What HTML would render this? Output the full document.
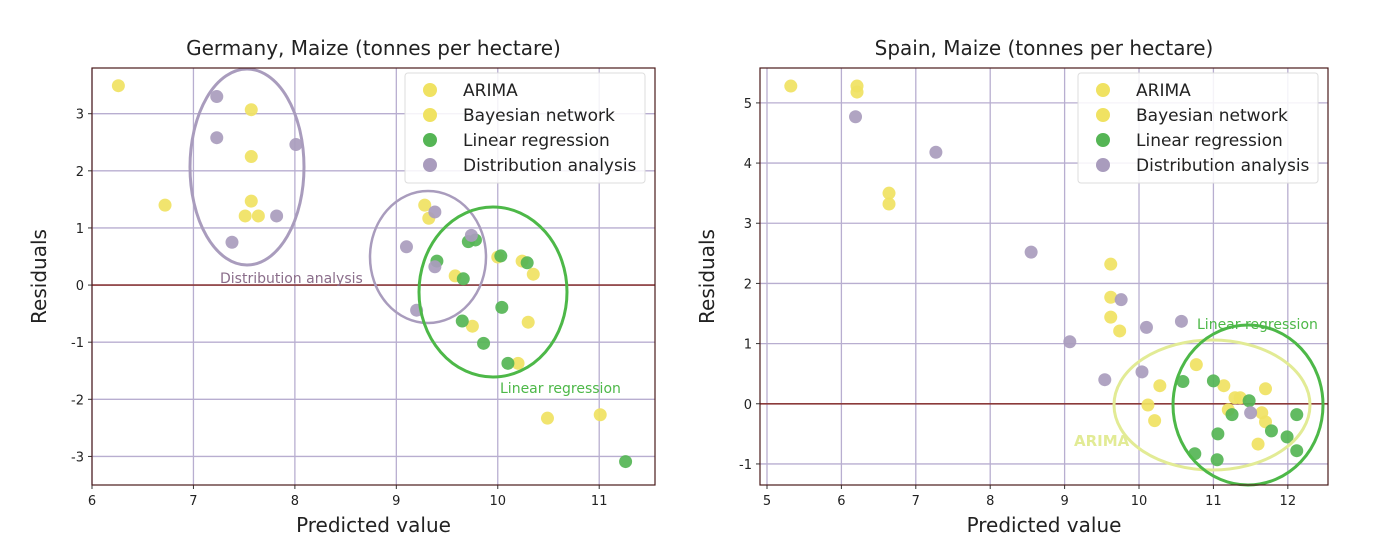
<!DOCTYPE html>
<html><head><meta charset="utf-8"><style>
body{margin:0;background:#fff;}
svg{display:block;font-family:"DejaVu Sans","Liberation Sans",sans-serif;}
</style></head><body>
<svg id="s" width="1400" height="544"></svg>
<script>
// Germany data
const deArimaX=[6.26,6.72,7.57,7.57,7.57,9.28,10.0,10.24,10.35,9.58,9.75];
const deArimaY=[3.49,1.40,3.07,2.25,1.47,1.40,0.49,0.42,0.19,0.16,-0.72];
const deBayesX=[7.51,7.64,9.32,10.3,10.2,11.01,10.49];
const deBayesY=[1.21,1.21,1.17,-0.65,-1.37,-2.27,-2.33];
const deLinX=[11.26,10.04,9.86,9.4,9.71,9.78,10.03,10.29,9.66,9.65,10.1];
const deLinY=[-3.09,-0.39,-1.02,0.42,0.76,0.79,0.51,0.39,0.11,-0.63,-1.37];
const deDistX=[7.23,7.23,8.01,7.82,7.38,9.1,9.38,9.2,9.38,9.74];
const deDistY=[3.30,2.58,2.46,1.21,0.75,0.67,0.32,-0.44,1.28,0.87];
// Spain data
const esArimaX=[5.32,6.21,6.21,6.64,6.64,9.62,9.62,9.62,9.74,10.77,10.28,10.12];
const esArimaY=[5.28,5.28,5.18,3.50,3.32,2.32,1.77,1.44,1.21,0.65,0.30,-0.02];
const esBayesX=[10.21,11.14,11.29,11.36,11.2,11.7,11.65,11.7,11.6];
const esBayesY=[-0.28,0.30,0.10,0.10,-0.10,0.25,-0.15,-0.30,-0.67];
const esLinX=[10.59,11.0,11.25,11.48,11.78,12.12,11.99,12.12,11.06,10.75,11.05];
const esLinY=[0.37,0.38,-0.18,0.05,-0.45,-0.18,-0.55,-0.78,-0.50,-0.83,-0.93];
const esDistX=[6.19,7.27,8.55,9.76,9.07,9.54,10.04,10.1,10.57,11.5];
const esDistY=[4.77,4.18,2.52,1.73,1.03,0.40,0.53,1.27,1.37,-0.15];
const deXTicks=[6,7,8,9,10,11], deYTicks=[-3,-2,-1,0,1,2,3];
const esXTicks=[5,6,7,8,9,10,11,12], esYTicks=[-1,0,1,2,3,4,5];

const NS='http://www.w3.org/2000/svg', svg=document.getElementById('s');
function mk(t,a,p){const e=document.createElementNS(NS,t);for(const k in a)e.setAttribute(k,a[k]);(p||svg).appendChild(e);return e;}
const YEL='#f0e262',GRN='#55b555',PUR='#a99cbd';
function chart(o){
  const g=mk('g',{});
  
  
  const X=v=>o.L+(v-o.x0)/(o.x1-o.x0)*(o.R-o.L), Y=v=>o.B-(v-o.y0)/(o.y1-o.y0)*(o.B-o.T);
  o.xt.forEach(t=>{const l=mk('line',{x1:X(t),x2:X(t),y1:o.T,y2:o.B,stroke:'#b8aed0','stroke-width':1.3},g);
    
    const tx=mk('text',{x:X(t),y:o.B+20,'text-anchor':'middle','font-size':13,fill:'#222'},g);tx.textContent=t;
    
    mk('line',{x1:X(t),x2:X(t),y1:o.B,y2:o.B+4,stroke:'#333'},g);});
  o.yt.forEach(t=>{const l=mk('line',{x1:o.L,x2:o.R,y1:Y(t),y2:Y(t),stroke:'#b8aed0','stroke-width':1.3},g);
    
    const tx=mk('text',{x:o.L-8,y:Y(t)+5,'text-anchor':'end','font-size':13,fill:'#222'},g);tx.textContent=t;
    
    mk('line',{x1:o.L-4,x2:o.L,y1:Y(t),y2:Y(t),stroke:'#333'},g);});
  const z=mk('line',{x1:o.L,x2:o.R,y1:Y(0),y2:Y(0),stroke:'#8b3a3a','stroke-width':1.6},g);
  
  const series=[[o.ax,o.ay,YEL,'arima'],[o.bx,o.by,YEL,'bayesian'],[o.lx,o.ly,GRN,'linear'],[o.dx,o.dy,PUR,'distribution']];
  series.forEach(s=>s[0].forEach((v,i)=>{const c=mk('circle',{cx:X(v),cy:Y(s[1][i]),r:6.5,fill:s[2],'fill-opacity':0.92},g);
    }));
  o.ann(g);
  const f=mk('rect',{x:o.L,y:o.T,width:o.R-o.L,height:o.B-o.T,fill:'none',stroke:'#4a1a1a','stroke-width':1.2},g);
  
  const ti=mk('text',{x:(o.L+o.R)/2,y:o.T-13,'text-anchor':'middle','font-size':20,fill:'#222'},g);ti.textContent=o.title;
  
  const xl=mk('text',{x:(o.L+o.R)/2,y:532,'text-anchor':'middle','font-size':20,fill:'#222'},g);xl.textContent='Predicted value';
  
  const yl=mk('text',{x:0,y:0,'text-anchor':'middle','font-size':20,fill:'#222',transform:`translate(${o.L-46},${(o.T+o.B)/2}) rotate(-90)`},g);yl.textContent='Residuals';
  
  // legend
  const lg=mk('g',{},g);
  
  mk('rect',{x:o.R-250,y:o.T+5,width:240,height:110,rx:3,fill:'#fff','fill-opacity':0.85,stroke:'#ddd'},lg);
  [['ARIMA',YEL],['Bayesian network',YEL],['Linear regression',GRN],['Distribution analysis',PUR]].forEach((e,i)=>{
    const c=mk('circle',{cx:o.R-225,cy:o.T+22+i*25,r:7,fill:e[1]},lg);
    
    const t=mk('text',{x:o.R-192,y:o.T+28+i*25,'font-size':17,fill:'#222'},lg);t.textContent=e[0];
    });
}
chart({name:'germany-chart',title:'Germany, Maize (tonnes per hectare)',L:92,R:655,T:68,B:485,x0:6,x1:11.55,y0:-3.5,y1:3.8,
  xt:deXTicks,yt:deYTicks,ax:deArimaX,ay:deArimaY,bx:deBayesX,by:deBayesY,lx:deLinX,ly:deLinY,dx:deDistX,dy:deDistY,
  ann:g=>{mk('ellipse',{cx:247,cy:167,rx:57,ry:98,fill:'none',stroke:PUR,'stroke-width':3},g);
    mk('ellipse',{cx:428,cy:257,rx:58,ry:66,fill:'none',stroke:PUR,'stroke-width':2.5},g);
    mk('ellipse',{cx:493,cy:292,rx:74,ry:85,fill:'none',stroke:'#4db848','stroke-width':3},g);
    const a=mk('text',{x:220,y:283,'font-size':14,fill:'#8a6d8a'},g);a.textContent='Distribution analysis';
    const b=mk('text',{x:500,y:393,'font-size':14,fill:'#4db848'},g);b.textContent='Linear regression';}});
chart({name:'spain-chart',title:'Spain, Maize (tonnes per hectare)',L:760,R:1328,T:68,B:485,x0:4.906,x1:12.54,y0:-1.35,y1:5.58,
  xt:esXTicks,yt:esYTicks,ax:esArimaX,ay:esArimaY,bx:esBayesX,by:esBayesY,lx:esLinX,ly:esLinY,dx:esDistX,dy:esDistY,
  ann:g=>{mk('ellipse',{cx:1212,cy:405,rx:98,ry:65,fill:'none',stroke:'#e2eb95','stroke-width':3},g);
    mk('ellipse',{cx:1248,cy:405,rx:75,ry:80,fill:'none',stroke:'#4db848','stroke-width':3},g);
    const a=mk('text',{x:1074,y:446,'font-size':15,'font-weight':'bold',fill:'#e2eb95'},g);a.textContent='ARIMA';
    const b=mk('text',{x:1197,y:329,'font-size':14,fill:'#4db848'},g);b.textContent='Linear regression';}});
</script>
</body></html>
